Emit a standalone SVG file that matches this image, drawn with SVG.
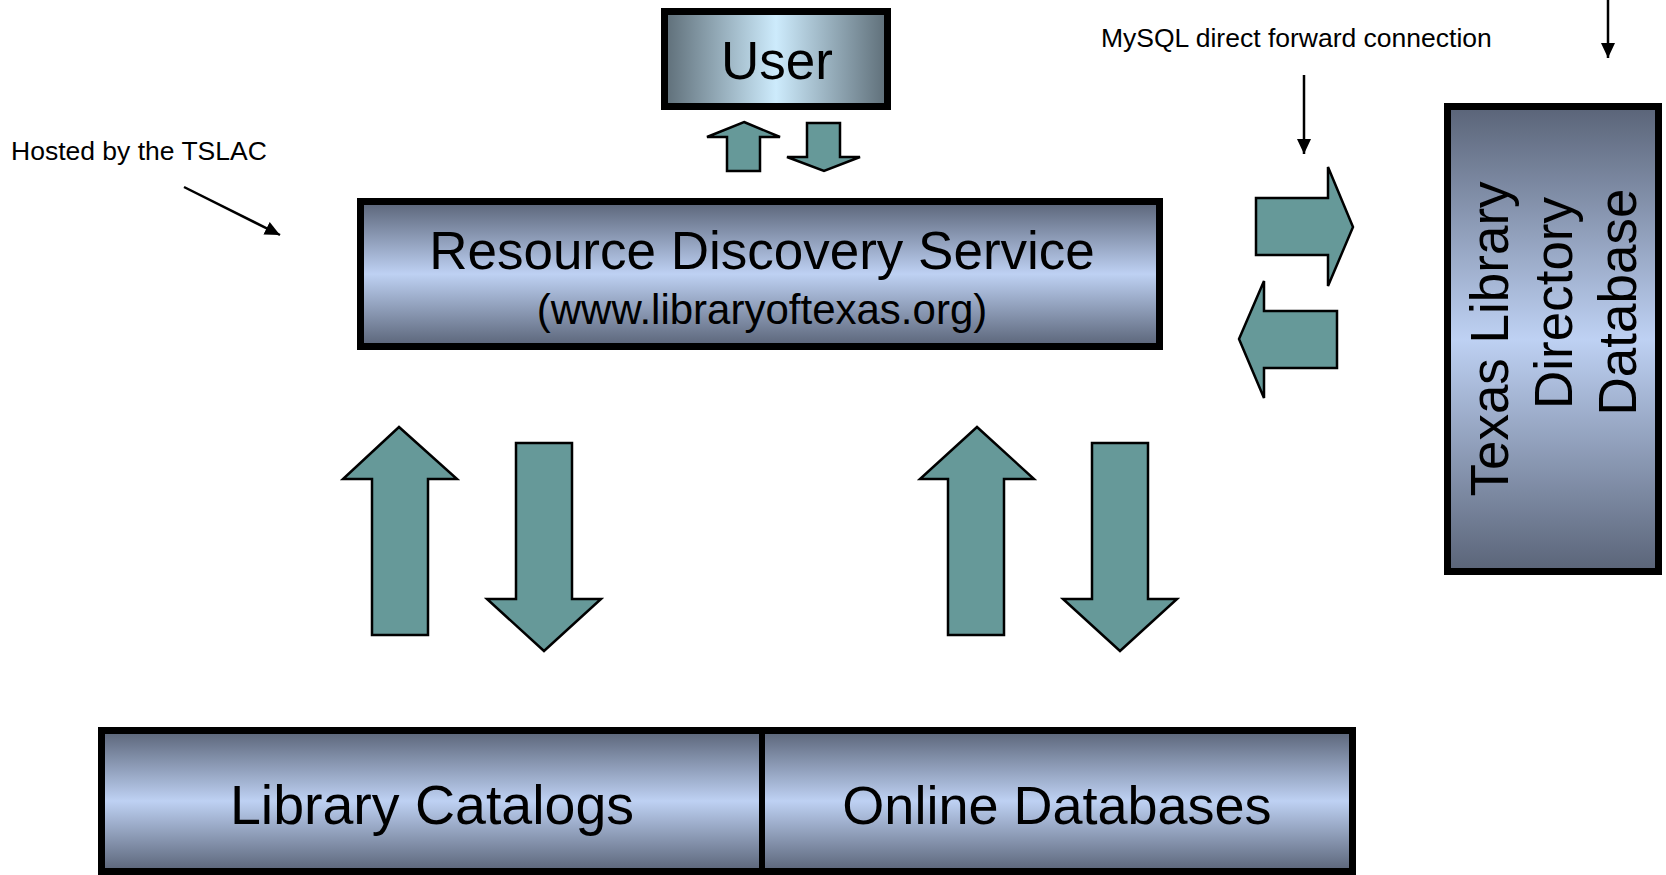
<svg xmlns="http://www.w3.org/2000/svg" width="1666" height="875" viewBox="0 0 1666 875">
<defs>
<linearGradient id="gv" x1="0" y1="0" x2="0" y2="1">
<stop offset="0" stop-color="#5a6478"/>
<stop offset="0.5" stop-color="#bed1f3"/>
<stop offset="1" stop-color="#5a6478"/>
</linearGradient>
<linearGradient id="gh" x1="0" y1="0" x2="1" y2="0">
<stop offset="0" stop-color="#5e6e78"/>
<stop offset="0.5" stop-color="#cdebfc"/>
<stop offset="1" stop-color="#5e6e78"/>
</linearGradient>
<marker id="ah" viewBox="0 0 15 14" refX="15" refY="7" markerWidth="15" markerHeight="14" markerUnits="userSpaceOnUse" orient="auto">
<path d="M0,0 L15,7 L0,14 z" fill="#000"/>
</marker>
</defs>
<style>
.box{stroke:#000;stroke-width:7}
.big{font-family:"Liberation Sans",Arial,sans-serif;fill:#000;text-anchor:middle}
.small{font-family:"Liberation Sans",Arial,sans-serif;fill:#000;font-size:26.5px}
.ar{fill:#669999;stroke:#000;stroke-width:2.5;stroke-linejoin:miter}
.ln{stroke:#000;stroke-width:2.5;fill:none}
</style>
<rect width="1666" height="875" fill="#fff"/>

<g id="user">
<rect class="box" x="664.5" y="11.5" width="223" height="95" fill="url(#gh)"/>
<text class="big" x="777" y="79" font-size="53">User</text>
</g>

<g id="rds">
<rect class="box" x="360.5" y="201.5" width="799" height="145" fill="url(#gv)"/>
<text class="big" x="762" y="269" font-size="53">Resource Discovery Service</text>
<text class="big" x="762" y="324" font-size="42">(www.libraryoftexas.org)</text>
</g>

<g id="tldd">
<rect class="box" x="1447.5" y="106.5" width="211" height="465" fill="url(#gv)"/>
<text class="big" font-size="53" transform="translate(1508,339) rotate(-90)">Texas Library</text>
<text class="big" font-size="53" transform="translate(1572,303) rotate(-90)">Directory</text>
<text class="big" font-size="53" transform="translate(1636,302) rotate(-90)">Database</text>
</g>

<g id="sources">
<rect class="box" x="101.5" y="730.5" width="1251" height="141" fill="url(#gv)"/>
<line x1="762" y1="730" x2="762" y2="872" stroke="#000" stroke-width="6"/>
<text class="big" x="432" y="824" font-size="55.5">Library Catalogs</text>
<text class="big" x="1057" y="824" font-size="54">Online Databases</text>
</g>

<g id="hosted-label">
<text class="small" x="11" y="160">Hosted by the TSLAC</text>
</g>
<g id="mysql-label">
<text class="small" x="1101" y="47">MySQL direct forward connection</text>
</g>

<g id="connectors">
<polygon class="ar" points="744,122 780,137 760,137 760,171 727,171 727,137 707,137"/>
<polygon class="ar" points="807,123 840,123 840,157 860,157 824,171 787,157 807,157"/>

<polygon class="ar" points="1256,198 1328,198 1328,167 1353,227 1328,286 1328,255 1256,255"/>
<polygon class="ar" points="1337,311 1264,311 1264,281 1239,339 1264,398 1264,368 1337,368"/>

<polygon class="ar" points="399,427 457,479 428,479 428,635 372,635 372,479 343,479"/>
<polygon class="ar" points="516,443 572,443 572,599 601,599 544,651 487,599 516,599"/>
<polygon class="ar" points="977,427 1034,479 1004,479 1004,635 948,635 948,479 920,479"/>
<polygon class="ar" points="1092,443 1148,443 1148,599 1177,599 1120,651 1063,599 1092,599"/>

<line class="ln" x1="1608" y1="0" x2="1608" y2="58" marker-end="url(#ah)"/>
<line class="ln" x1="1304" y1="75" x2="1304" y2="154" marker-end="url(#ah)"/>
<line class="ln" x1="184" y1="187" x2="280" y2="235" marker-end="url(#ah)"/>
</g>
</svg>
